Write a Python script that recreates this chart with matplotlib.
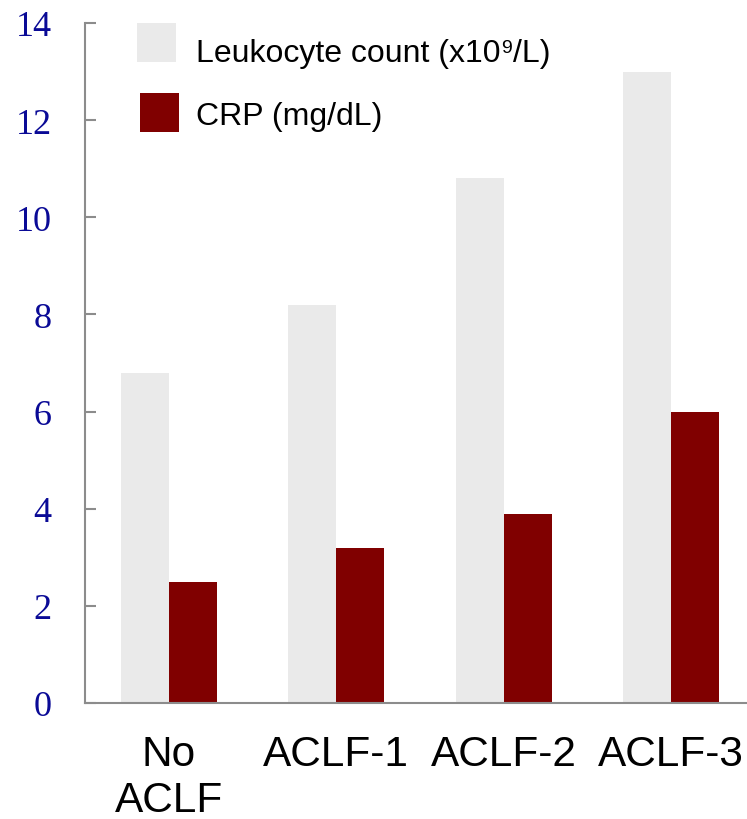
"""Leukocyte count and CRP by ACLF grade."""

import matplotlib
matplotlib.use("Agg")
import matplotlib.pyplot as plt
import numpy as np
from matplotlib.patches import Rectangle

groups = ["No\nACLF", "ACLF-1", "ACLF-2", "ACLF-3"]
leukocytes = [6.8, 8.2, 10.8, 13.0]
crp = [2.5, 3.2, 3.9, 6.0]
# label pieces: (before superscript, superscript, after superscript)
series_names = [("Leukocyte count (x10", "9", "/L)"), ("CRP (mg/dL)", "", "")]
y_ticks = [0, 2, 4, 6, 8, 10, 12, 14]

GREY = "#eaeaea"
RED = "#800000"
SPINE = "#8c8c8c"
SANS = ["Liberation Sans", "DejaVu Sans"]

W, H = 747, 820
fig = plt.figure(figsize=(W / 100, H / 100), dpi=100)
ax = fig.add_axes([85 / W, 116 / H, 670 / W, 680 / H])

x = np.arange(len(groups))
w = 0.286
ax.bar(x - w / 2, leukocytes, w, color=GREY)
ax.bar(x + w / 2, crp, w, color=RED)

ax.set_xlim(-0.5, 3.5)
ax.set_ylim(0, 14)
ax.set_yticks(y_ticks)
ax.set_yticklabels([str(t) for t in y_ticks], fontfamily="Liberation Serif",
                   fontsize=26, color="#0a0a96")
ax.tick_params(axis="y", direction="in", length=8, width=1.5, color=SPINE, pad=24)
ax.set_xticks(x)
ax.set_xticklabels(groups, family=SANS, fontsize=30.5, color="black",
                   linespacing=1.2, va="top")
ax.tick_params(axis="x", length=0, pad=22)

for side in ["top", "right"]:
    ax.spines[side].set_visible(False)
for side in ["left", "bottom"]:
    ax.spines[side].set_color(SPINE)
    ax.spines[side].set_linewidth(1.5)

# legend keys and labels, placed in pixel units from the top-left corner
renderer = fig.canvas.get_renderer()
keys = [(137, 24, GREY), (140, 94, RED)]
baselines = [62, 125]
for (kx, ky, colour), base, (head, sup, tail) in zip(keys, baselines, series_names):
    fig.patches.append(Rectangle((kx / W, 1 - (ky + 39) / H), 39 / W, 39 / H,
                                 transform=fig.transFigure, facecolor=colour,
                                 edgecolor="none"))
    t = fig.text(196 / W, 1 - base / H, head, family=SANS, fontsize=23,
                 va="baseline", ha="left")
    if sup:
        x_end = t.get_window_extent(renderer).x1
        s = fig.text((x_end + 1) / W, 1 - (base - 9) / H, sup, family=SANS,
                     fontsize=14, va="baseline", ha="left")
        x_end = s.get_window_extent(renderer).x1
        fig.text((x_end + 1) / W, 1 - base / H, tail, family=SANS, fontsize=23,
                 va="baseline", ha="left")

fig.savefig("out.png", dpi=100)
